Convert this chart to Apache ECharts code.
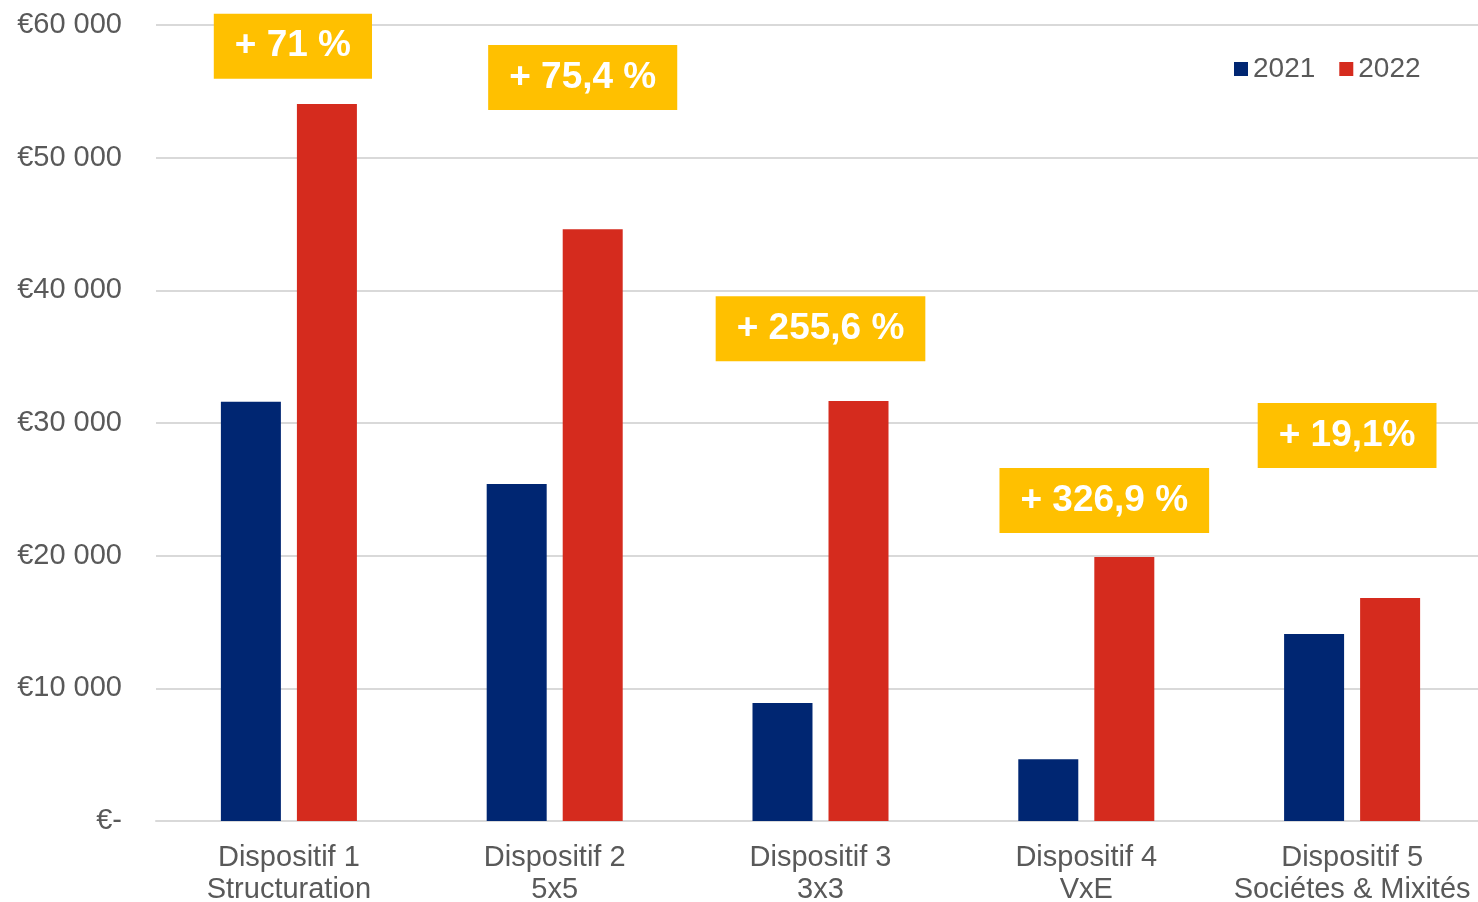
<!DOCTYPE html>
<html>
<head>
<meta charset="utf-8">
<script src="https://cdn.jsdelivr.net/npm/echarts@6/dist/echarts.min.js"></script>
<style>html,body{margin:0;padding:0;background:#fff}#c{width:1478px;height:902px}</style>
</head>
<body>
<div id="c"></div>
<script>
const categories = ['Dispositif 1\nStructuration', 'Dispositif 2\n5x5', 'Dispositif 3\n3x3', 'Dispositif 4\nVxE', 'Dispositif 5\nSociétes & Mixités'];
const seriesNames = ['2021', '2022'];
const values2021 = [31600, 25400, 8900, 4650, 14100];
const values2022 = [54050, 44600, 31650, 19900, 16800];
const growthLabels = ['+ 71 %', '+ 75,4 %', '+ 255,6 %', '+ 326,9 %', '+ 19,1%'];
// vertical anchor (data units) and horizontal nudge (px) of each growth badge
const growthAnchor = [58400, 56050, 37100, 24150, 29050];
const growthNudge = [4, 28, 0, 18, -5];
const yTicks = { min: 0, max: 60000, interval: 10000 };

const FONT = "'Liberation Sans', Arial, sans-serif";
const GRAY = '#595959';

function euro(v) {
  if (v === 0) return '€-';
  return '€' + String(v).replace(/\B(?=(\d{3})+(?!\d))/g, ' ');
}

const chart = echarts.init(document.getElementById('c'), null, { renderer: 'canvas' });
chart.setOption({
  animation: false,
  backgroundColor: '#ffffff',
  textStyle: { fontFamily: FONT },
  grid: { left: 156, width: 1329, top: 25, bottom: 81, containLabel: false, outerBoundsMode: 'none' },
  legend: {
    data: seriesNames,
    left: 1229, top: 50,
    icon: 'rect', itemWidth: 14, itemHeight: 14, itemGap: 24,
    textStyle: { fontSize: 28, color: GRAY, fontFamily: FONT }
  },
  xAxis: {
    type: 'category',
    data: categories,
    axisLine: { show: true, lineStyle: { color: '#D9D9D9', width: 2 } },
    axisTick: { show: false },
    axisLabel: { color: GRAY, fontSize: 29, lineHeight: 32, margin: 21, fontFamily: FONT, interval: 0 }
  },
  yAxis: {
    type: 'value',
    min: yTicks.min, max: yTicks.max, interval: yTicks.interval,
    axisLine: { show: false },
    axisTick: { show: false },
    splitLine: { lineStyle: { color: '#D9D9D9', width: 2 } },
    axisLabel: { color: GRAY, fontSize: 29, margin: 34, fontFamily: FONT, formatter: euro }
  },
  series: [
    { name: seriesNames[0], type: 'bar', data: values2021, barWidth: 60, barGap: '26.7%',
      itemStyle: { color: '#002672' } },
    { name: seriesNames[1], type: 'bar', data: values2022, barWidth: 60,
      itemStyle: { color: '#D52B1E' } },
    { name: 'growth', type: 'scatter', z: 10, symbolSize: 1,
      itemStyle: { color: 'rgba(0,0,0,0)', opacity: 1 },
      data: growthLabels.map((t, i) => ({
        value: [i, growthAnchor[i]],
        label: { offset: [growthNudge[i], 0] }
      })),
      label: {
        show: true, position: 'inside', opacity: 1,
        formatter: p => growthLabels[p.dataIndex],
        color: '#ffffff', fontWeight: 'bold', fontSize: 37, lineHeight: 37,
        fontFamily: FONT, backgroundColor: '#FFC000', padding: [17, 21, 11, 21]
      },
      emphasis: { disabled: true },
      silent: true
    }
  ]
});
</script>
</body>
</html>
